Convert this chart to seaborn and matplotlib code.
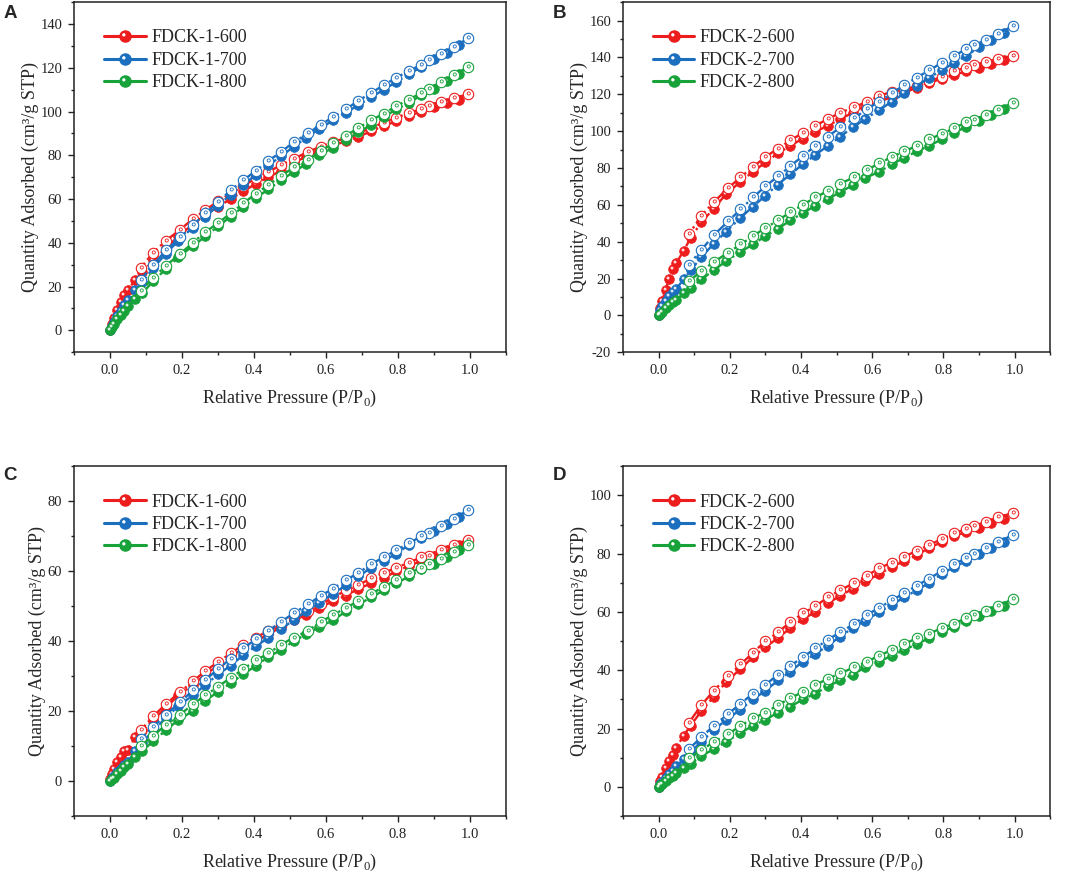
import matplotlib
matplotlib.use("Agg")
from matplotlib import pyplot as plt
from matplotlib.path import Path
from matplotlib.lines import Line2D
from matplotlib.ticker import MultipleLocator, FormatStrFormatter
import seaborn as sns

# relative pressure of the adsorption (filled) and desorption (open) points
p_ads = [0.0, 0.005, 0.01, 0.02, 0.03, 0.04, 0.05, 0.07, 0.09, 0.12, 0.155, 0.19,
         0.23, 0.265, 0.30, 0.335, 0.37, 0.405, 0.44, 0.475, 0.51, 0.545, 0.58,
         0.62, 0.655, 0.69, 0.725, 0.76, 0.795, 0.83, 0.865, 0.90, 0.935, 0.97]
p_des = [0.995, 0.955, 0.92, 0.885, 0.865, 0.83, 0.795, 0.76, 0.725, 0.69, 0.655,
         0.62, 0.585, 0.55, 0.51, 0.475, 0.44, 0.405, 0.37, 0.335, 0.30, 0.265,
         0.23, 0.195, 0.155, 0.12, 0.085]

# panel A
a600_ads = [0, 3, 5.5, 9.5, 13, 16, 18.5, 23, 26.5, 32, 37.5, 43, 48.5, 53, 56.5, 60, 63.5,
            67, 70, 73, 76.5, 79.5, 82, 84.5, 86.5, 88.5, 91, 93.5, 95.5, 98, 100, 102, 104, 105.5]
a600_des = [108, 106, 104.5, 102.5, 101, 99.5, 97, 95, 92.5, 90, 88, 86, 84, 81.5, 78.5,
            75.5, 72.5, 69.5, 66, 62.5, 59, 55, 51, 46, 41, 35.5, 28.5]
a700_ads = [0, 2, 4, 6.5, 9, 11.5, 14, 18.5, 22, 28.5, 35, 41, 47, 52, 57, 62, 66.5, 71,
            75.5, 79.5, 84, 88, 92, 96, 99.5, 103, 106.5, 110, 113.5, 117, 120.5, 124, 127, 130.5]
a700_des = [133.5, 129.5, 126.5, 123.5, 121.5, 118.5, 115.5, 112, 108.5, 105, 101, 97.5, 94,
            90, 86, 81.5, 77.5, 73, 68.5, 64, 58.5, 53.5, 48, 42.5, 36.5, 30, 23]
a800_ads = [0, 1.5, 3, 5, 7, 9, 11, 14.5, 17, 22.5, 28, 33.5, 38.5, 43, 47.5, 52, 56.5, 60.5,
            64.5, 68.5, 72.5, 76, 80, 83.5, 87, 90.5, 94, 97.5, 101, 104, 107.5, 110.5, 114, 117]
a800_des = [120.5, 116.5, 113.5, 110.5, 108.5, 105.5, 102.5, 99, 96, 92.5, 89, 85.5, 82, 78,
            74.5, 70.5, 66.5, 62.5, 58, 53.5, 49, 45, 40, 35, 29.5, 24, 18]

# panel B
b600_ads = [0, 4, 8, 14, 20, 25, 28.5, 35, 42, 50.5, 58, 66, 72.5, 78, 83, 88, 92, 96, 99.5,
            103, 106.5, 110, 113, 116, 118.5, 121, 123.5, 126, 128.5, 130.5, 132.5, 134.5, 136.5, 138.5]
b600_des = [141, 139, 137.5, 136, 134.5, 132.5, 129.5, 127, 124.5, 122.5, 121.5, 119, 116,
            113, 110, 106.5, 103, 99, 95, 90.5, 86, 80.5, 75, 69, 61.5, 54, 44]
b700_ads = [0, 3, 5, 8, 10.5, 12.5, 14.5, 19.5, 24.5, 31.5, 39, 45.5, 53, 59, 65, 71, 76.5,
            82, 87, 92, 97, 102, 106.5, 111.5, 116, 120.5, 124.5, 129, 133, 137, 141, 145.5, 149.5, 153.5]
b700_des = [157, 153, 149.5, 146.5, 144.5, 141, 137, 133, 129, 125, 120.5, 116, 112, 107,
            102, 97, 92, 86.5, 81, 75.5, 70, 64, 57.5, 51, 43.5, 35.5, 27.5]
b800_ads = [0, 1, 2, 4, 5.5, 7, 8.5, 12, 15, 19.5, 24.5, 29.5, 34.5, 38.5, 43, 47, 51.5,
            55.5, 59.5, 63, 67, 70.5, 74.5, 78, 82, 85.5, 89, 92, 95.5, 99, 102.5, 105.5, 108.5, 112]
b800_des = [115.5, 111.5, 109, 106, 105, 101.5, 98.5, 95.5, 92, 89, 86, 82.5, 79, 75, 71.5,
            67.5, 64, 60, 56, 51.5, 47.5, 43, 38.5, 34, 29, 24, 18.5]

# panel C
c600_ads = [0.5, 2, 3.5, 5.5, 7, 8.5, 9, 12.5, 14.5, 17.5, 21, 24.5, 27.5, 30.5, 33, 35.5,
            38, 40, 42, 44, 46, 47.5, 49.5, 51.5, 53, 55, 56.5, 58, 60, 61.5, 63, 64.5, 66, 67.5]
c600_des = [69, 67.5, 66, 64.5, 64, 62.5, 61, 59.5, 58, 56, 54.5, 52.5, 50.5, 48.5, 46.5,
            44.5, 43, 41, 39, 36.5, 34, 31.5, 28.5, 25.5, 22, 18.5, 14.5]
c700_ads = [0, 1, 1.5, 2.5, 3.5, 4.5, 5.5, 8.5, 11, 14.5, 18, 21.5, 24.5, 27.5, 30.5, 33,
            36, 38.5, 41, 43.5, 46, 48.5, 51, 53.5, 56, 58.5, 61, 63, 65, 67.5, 69.5, 71.5, 73.5, 75.5]
c700_des = [77.5, 75, 73, 71, 70, 68, 66, 64, 62, 59.5, 57.5, 55, 53, 50.5, 48, 45.5, 43,
            40.5, 38, 35, 32, 29, 26, 22.5, 19, 15.5, 12]
c800_ads = [0, 0.5, 1, 2, 3, 4, 5, 7, 8.5, 11.5, 14.5, 17.5, 20, 23, 25.5, 28, 30.5, 33,
            35.5, 37.5, 40, 42, 44, 46, 48.5, 50.5, 52.5, 54.5, 56.5, 58.5, 60.5, 62, 64, 66]
c800_des = [67.5, 65.5, 63.5, 62, 61, 59.5, 57.5, 55.5, 53.5, 51.5, 49.5, 47.5, 45.5, 43,
            41, 39, 36.5, 34.5, 32, 29.5, 27, 24.5, 22, 19, 16, 13, 10]

# panel D
d600_ads = [0, 2, 3.5, 6.5, 9, 11, 13.5, 17.5, 21, 26, 31, 36, 40.5, 44.5, 48, 51, 54.5,
            57.5, 60, 63, 65.5, 68, 70.5, 73, 75.5, 77.5, 79.5, 82, 84, 86, 87.5, 89, 90.5, 92]
d600_des = [94, 92.5, 91, 89.5, 88.5, 87, 85, 83, 81, 79, 77, 75, 72.5, 70, 67.5, 65, 62,
            59.5, 56.5, 53, 50, 46, 42, 38, 33, 28, 22]
d700_ads = [0, 1, 1.5, 3, 4.5, 5.5, 7, 9.5, 12, 15.5, 19.5, 23, 26.5, 30, 33, 36.5, 39.5,
            43, 45.5, 48.5, 51.5, 54.5, 57, 60, 62.5, 65, 67.5, 70, 73, 75.5, 77.5, 80, 82, 84]
d700_des = [86.5, 84, 82, 80, 78.5, 76.5, 74, 71.5, 69, 66.5, 64, 61.5, 59, 56, 53, 50.5,
            47.5, 44.5, 41.5, 38.5, 35, 32, 28.5, 25, 21, 17, 13]
d800_ads = [0, 0.5, 1, 2, 3, 3.8, 4.7, 6.5, 8, 10.5, 13, 15.5, 18.5, 21, 23, 25.5, 27.5, 30,
            32, 34.5, 36.5, 38.5, 41, 43, 45, 47, 49, 51, 53, 55, 57, 58.5, 60.5, 62]
d800_des = [64.5, 62, 60.5, 59, 58, 56, 54.5, 52.5, 51, 49, 47, 45, 43, 41, 39, 37, 35,
            32.5, 30.5, 28, 25.5, 23.5, 21, 18, 15.5, 12.5, 10]

colors = ["#ee1d1d", "#1c6fbf", "#17a23a"]
temps = ["600", "700", "800"]

panels = [
    ("A", "FDCK-1", [(a600_ads, a600_des), (a700_ads, a700_des), (a800_ads, a800_des)], (-10, 150), 0),
    ("B", "FDCK-2", [(b600_ads, b600_des), (b700_ads, b700_des), (b800_ads, b800_des)], (-20, 170), -20),
    ("C", "FDCK-1", [(c600_ads, c600_des), (c700_ads, c700_des), (c800_ads, c800_des)], (-10, 90), 0),
    ("D", "FDCK-2", [(d600_ads, d600_des), (d700_ads, d700_des), (d800_ads, d800_des)], (-10, 110), 0),
]

sns.set_style("ticks")
plt.rcParams["font.family"] = ["Liberation Serif", "DejaVu Serif"]
plt.rcParams["mathtext.fontset"] = "custom"
plt.rcParams["mathtext.rm"] = "Liberation Serif"
plt.rcParams["axes.unicode_minus"] = False


def small_circle(cx, cy, r):
    # small circle inside the unit marker box; the two lone points keep the marker scale
    c = Path.circle((cx, cy), r)
    verts = list(c.vertices) + [(1.0, 1.0), (-1.0, -1.0)]
    codes = list(c.codes) + [Path.MOVETO, Path.MOVETO]
    return Path(verts, codes)


shine = small_circle(-0.3, 0.3, 0.3)
inner = small_circle(0.05, 0.2, 0.3)

fig = plt.figure(figsize=(10.65, 8.74), dpi=100)
positions = [
    [0.0695, 0.597, 0.4056, 0.4005],
    [0.585, 0.597, 0.401, 0.4005],
    [0.0695, 0.0664, 0.4056, 0.4],
    [0.585, 0.0664, 0.401, 0.4],
]
letter_xy = [(0.003, 0.985), (0.519, 0.985), (0.003, 0.456), (0.519, 0.456)]

for (letter, name, series, ylim, ystart), pos, lxy in zip(panels, positions, letter_xy):
    ax = fig.add_axes(pos)
    handles = []
    for (ads, des), c, t in zip(series, colors, temps):
        sns.lineplot(x=p_ads, y=ads, ax=ax, color=c, linestyle="-.", linewidth=1.7,
                     marker="o", markersize=7, markerfacecolor=c, markeredgecolor=c,
                     markeredgewidth=0.5, sort=False, errorbar=None)
        ax.plot(p_ads, ads, ls="none", marker=shine, ms=7, mfc="white", mec="none", alpha=0.85)
        sns.lineplot(x=p_des, y=des, ax=ax, color=c, linestyle="-.", linewidth=1.7,
                     marker="o", markersize=7.5, markerfacecolor="white", markeredgecolor=c,
                     markeredgewidth=0.8, sort=False, errorbar=None)
        ax.plot(p_des, des, ls="none", marker=inner, ms=7.5, mfc="none", mec=c, mew=0.6)
        h1 = Line2D([], [], color=c, lw=2.2, marker="o", ms=8, mfc=c, mec=c)
        h2 = Line2D([], [], ls="none", marker=shine, ms=8, mfc="white", mec="none")
        handles.append((h1, h2))

    ax.set_xlim(-0.1, 1.1)
    ax.set_ylim(*ylim)
    ax.xaxis.set_major_locator(MultipleLocator(0.2))
    ax.xaxis.set_minor_locator(MultipleLocator(0.1))
    ax.set_yticks(range(ystart, ylim[1], 20))
    ax.yaxis.set_minor_locator(MultipleLocator(10))
    ax.xaxis.set_major_formatter(FormatStrFormatter("%.1f"))
    ax.tick_params(which="major", direction="out", length=4.5, width=1.0,
                   labelsize=10.5, colors="#222222", pad=4)
    ax.tick_params(which="minor", direction="out", length=2.5, width=1.0, colors="#222222")
    for sp in ax.spines.values():
        sp.set_visible(True)
        sp.set_linewidth(1.1)
        sp.set_color("#222222")

    ax.set_xlabel(r"Relative Pressure (P/P$_{\mathrm{0}}$)", fontsize=13, labelpad=8)
    ax.set_ylabel("Quantity Adsorbed (cm³/g STP)", fontsize=13, labelpad=1)

    ax.legend(handles, [f"{name}-{t}" for t in temps], loc="upper left",
              bbox_to_anchor=(0.07, 0.922), frameon=False, fontsize=13,
              handlelength=2.3, handletextpad=0.3, labelspacing=0.3,
              borderpad=0, borderaxespad=0)

    fig.text(lxy[0], lxy[1], letter, fontsize=13.5, fontweight="bold",
             family="Liberation Sans", ha="left", va="center")

fig.savefig("out.png", dpi=100)
